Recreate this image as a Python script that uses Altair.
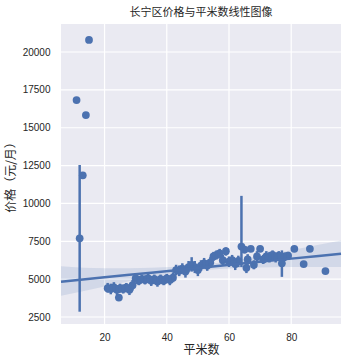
import altair as alt
import pandas as pd

# Mean price per area (x_estimator) with CI bounds
area = [11, 12, 13, 14, 15,
        21, 22, 23, 24, 24.6, 25, 26, 27, 28, 29, 30, 31, 32, 33, 34, 35, 36, 37, 38, 39, 40,
        41, 42, 43, 44, 45, 46, 47, 48, 49, 50, 51, 52, 53, 54, 55, 56, 57, 58, 59, 60,
        61, 62, 63, 64, 65, 65.6, 66, 67, 68, 69, 70, 71, 72, 73, 74, 75, 76, 77, 78, 79,
        81, 84, 86, 91]
price = [16830, 7700, 11860, 15840, 20800,
         4400, 4350, 4450, 4300, 3780, 4400, 4350, 4450, 4300, 4600, 5050, 4900, 5000, 4950, 5050, 4900, 5000, 4850, 5000, 4900, 5050,
         4950, 5100, 5600, 5550, 5700, 5500, 5800, 5950, 5800, 5600, 5900, 6050, 5900, 6100, 6500, 6600, 6700, 6250, 6850, 6150,
         6250, 6000, 6200, 7150, 6950, 5750, 6300, 7000, 5950, 6500, 7000, 6300, 6500, 6450, 6600, 6450, 6550, 6050, 6500, 6550,
         7000, 6000, 7000, 5530]
ci_low = [16830, 2850, 11860, 15840, 20800,
          4100, 4000, 4150, 3950, 3780, 4100, 4050, 4200, 3950, 4250, 4800, 4600, 4750, 4650, 4800, 4550, 4700, 4500, 4700, 4600, 4750,
          4600, 4800, 5250, 5200, 5400, 5100, 5450, 5500, 5400, 5200, 5550, 5700, 5550, 5750, 6200, 6300, 6400, 5900, 6550, 5800,
          5900, 5600, 5800, 5800, 6700, 5400, 5950, 7000, 5650, 6150, 6800, 6000, 6150, 6100, 6300, 6100, 6250, 5150, 6200, 6300,
          7000, 6000, 7000, 5530]
ci_high = [16830, 12540, 11860, 15840, 20800,
           4750, 4700, 4800, 4600, 3780, 4700, 4650, 4750, 4550, 4950, 5300, 5200, 5300, 5250, 5350, 5200, 5300, 5150, 5300, 5200, 5350,
           5250, 5450, 5950, 5900, 6050, 5850, 6200, 6450, 6200, 5950, 6250, 6400, 6250, 6450, 6800, 6900, 7000, 6600, 7100, 6500,
           6600, 6350, 6550, 10500, 7150, 6100, 6650, 7000, 6250, 6850, 7200, 6600, 6850, 6800, 6900, 6750, 6850, 6900, 6750, 6800,
           7000, 6000, 7000, 5530]

# Regression fit line and its confidence band
fit_x = [6, 13, 20, 28, 35, 43, 50, 58, 65, 73, 80, 88, 96]
fit_y = [4830, 4975, 5120, 5285, 5430, 5590, 5740, 5900, 6045, 6210, 6355, 6520, 6680]
band_low = [3900, 4195, 4520, 4855, 5100, 5360, 5560, 5680, 5745, 5780, 5795, 5800, 5810]
band_high = [5860, 5755, 5720, 5715, 5760, 5820, 5920, 6120, 6345, 6640, 6915, 7240, 7550]

x_ticks = [20, 40, 60, 80]
y_ticks = [2500, 5000, 7500, 10000, 12500, 15000, 17500, 20000]

pts = pd.DataFrame({"x": area, "y": price, "lo": ci_low, "hi": ci_high})
bars = pts[pts["lo"] != pts["hi"]]
fit = pd.DataFrame({"x": fit_x, "y": fit_y, "lo": band_low, "hi": band_high})
xg = pd.DataFrame({"x": x_ticks})
yg = pd.DataFrame({"y": y_ticks})

BLUE = "#4C72B0"
DARK = "#262626"
xs = alt.Scale(domain=[6, 96], nice=False, zero=False)
ys = alt.Scale(domain=[2038, 21850], nice=False, zero=False)

xax = alt.Axis(title="平米数", values=x_ticks, format="d", labelPadding=8, titlePadding=2,
               grid=False, domain=False, ticks=False, labelFontSize=10, labelColor=DARK,
               labelFont="Liberation Sans", titleFont="Noto Sans CJK SC", titleFontSize=12,
               titleFontWeight="normal", titleColor=DARK)
yax = alt.Axis(title="价格（元/月）", values=y_ticks, format="d", labelPadding=11, titlePadding=5,
               grid=False, domain=False, ticks=False, labelFontSize=10, labelColor=DARK,
               labelFont="Liberation Sans", titleFont="Noto Sans CJK SC", titleFontSize=12,
               titleFontWeight="normal", titleColor=DARK)

xgrid = alt.Chart(xg).mark_rule(color="white", strokeWidth=1.2).encode(
    x=alt.X("x:Q", scale=xs, axis=xax)
)
ygrid = alt.Chart(yg).mark_rule(color="white", strokeWidth=1.2).encode(
    y=alt.Y("y:Q", scale=ys, axis=yax)
)
points = alt.Chart(pts).mark_circle(size=60, color=BLUE, opacity=1).encode(
    x=alt.X("x:Q", scale=xs),
    y=alt.Y("y:Q", scale=ys),
)
errs = alt.Chart(bars).mark_rule(color=BLUE, strokeWidth=2.5).encode(
    x=alt.X("x:Q", scale=xs),
    y=alt.Y("lo:Q", scale=ys),
    y2="hi:Q",
)
band = alt.Chart(fit).mark_area(color=BLUE, opacity=0.15).encode(
    x=alt.X("x:Q", scale=xs),
    y=alt.Y("lo:Q", scale=ys),
    y2="hi:Q",
)
line = alt.Chart(fit).mark_line(color=BLUE, strokeWidth=2.5).encode(
    x=alt.X("x:Q", scale=xs),
    y=alt.Y("y:Q", scale=ys),
)

chart = alt.layer(xgrid, ygrid, points, errs, band, line).properties(
    width=280, height=300,
    background="white",
    title=alt.TitleParams("长宁区价格与平米数线性图像", font="Noto Sans CJK SC", fontSize=11,
                          fontWeight="normal", color=DARK, offset=5),
    autosize=alt.AutoSizeParams(type="none"),
    padding={"left": 61, "top": 24, "right": 7, "bottom": 40},
).configure_view(fill="#EAEAF2", stroke=None)

chart.save("out.html", embed_options={"renderer": "svg", "actions": False})
